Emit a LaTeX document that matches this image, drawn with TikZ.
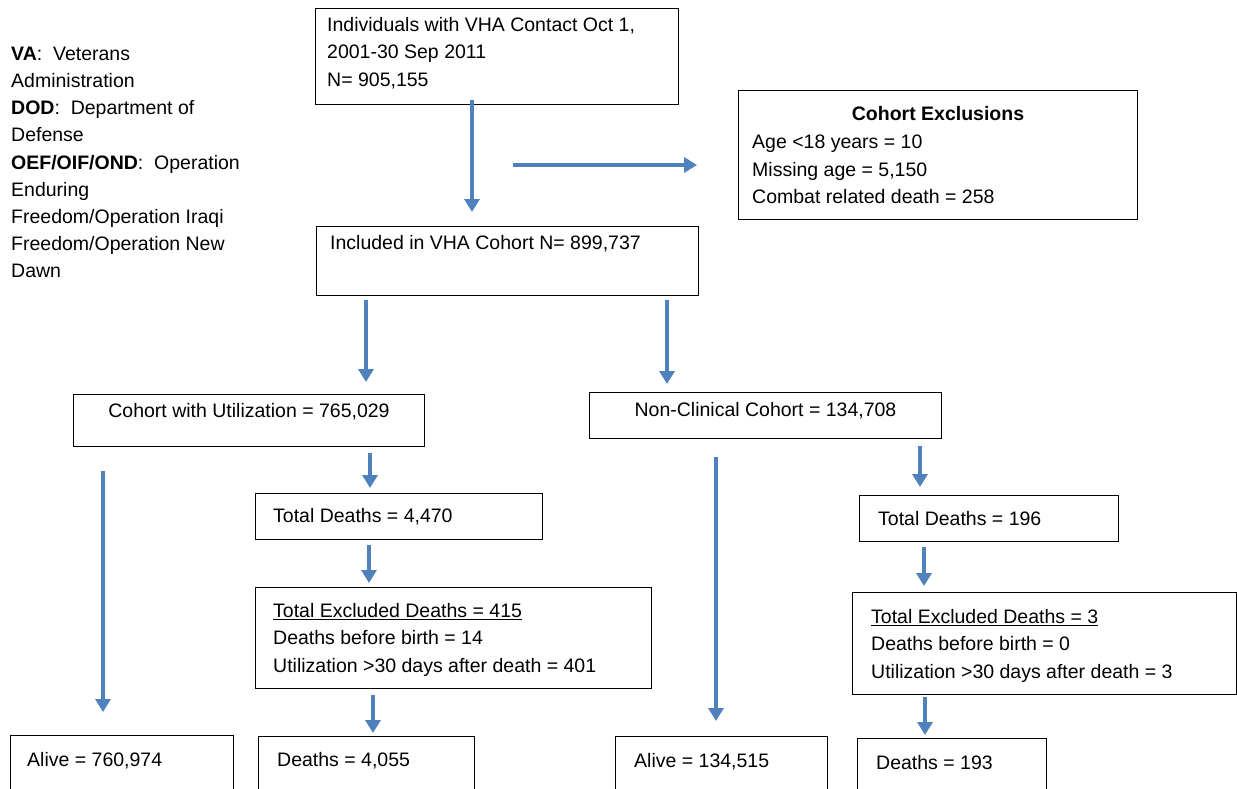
\documentclass[tikz,border=0pt]{standalone}
\usepackage{fontspec}
\setmainfont{Liberation Sans}
\usetikzlibrary{arrows.meta}
\definecolor{flowblue}{RGB}{79,129,189}
\tikzset{
  box/.style={draw=black,line width=1pt,anchor=north west,inner sep=0pt},
  txt/.style={anchor=north west,align=left,inner sep=0pt,font=\fontsize{19.5}{27.5}\selectfont},
  flow/.style={draw=flowblue,line width=4.5pt,-{Triangle[width=15pt,length=13pt]}}
}

\begin{document}
\begin{tikzpicture}[x=1pt,y=-1pt]
  \useasboundingbox[fill=white] (0,0) rectangle (1237,789);
  \begin{scope}
    \clip (0,0) rectangle (1237,789);

    % legend
    \node[txt,font=\fontsize{19.5}{27.1}\selectfont] (legend) at (11,47) {
      \textbf{VA}:\ \ Veterans\\
      Administration\\
      \textbf{DOD}:\ \ Department of\\
      Defense\\
      \textbf{OEF/OIF/OND}:\ \ Operation\\
      Enduring\\
      Freedom/Operation Iraqi\\
      Freedom/Operation New\\
      Dawn
    };

    % boxes
    \node[box,minimum width=363,minimum height=96,
      label={[txt,xshift=12pt,yshift=-9pt]north west:{Individuals with VHA Contact Oct 1,\\2001-30 Sep 2011\\N= 905,155}}]
      (contact) at (315,8) {};
    \node[box,minimum width=399,minimum height=129,
      label={[txt,anchor=north,yshift=-16pt]north:{\textbf{Cohort Exclusions}}},
      label={[txt,xshift=14pt,yshift=-45pt]north west:{Age <18 years = 10\\Missing age = 5,150\\Combat related death = 258}}]
      (excl) at (738,90) {};
    \node[box,minimum width=382,minimum height=69,
      label={[txt,xshift=14pt,yshift=-9pt]north west:{Included in VHA Cohort N= 899,737}}]
      (incl) at (316,226) {};
    \node[box,minimum width=351,minimum height=52,
      label={[txt,anchor=north,yshift=-9pt]north:{Cohort with Utilization = 765,029}}]
      (util) at (73,394) {};
    \node[box,minimum width=352,minimum height=46,
      label={[txt,anchor=north,yshift=-10pt]north:{Non-Clinical Cohort = 134,708}}]
      (noncl) at (589,392) {};
    \node[box,minimum width=287,minimum height=46,
      label={[txt,anchor=west,xshift=18pt]west:{Total Deaths = 4,470}}]
      (utildeaths) at (255,493) {};
    \node[box,minimum width=259,minimum height=46,
      label={[txt,anchor=west,xshift=19pt]west:{Total Deaths = 196}}]
      (nonceaths) at (859,495) {};
    \node[box,minimum width=396,minimum height=101,
      label={[txt,xshift=18pt,yshift=-16pt]north west:{\underline{Total Excluded Deaths = 415}\\Deaths before birth = 14\\Utilization >30 days after death = 401}}]
      (utilexcl) at (255,587) {};
    \node[box,minimum width=384,minimum height=102,
      label={[txt,xshift=19pt,yshift=-17pt]north west:{\underline{Total Excluded Deaths = 3}\\Deaths before birth = 0\\Utilization >30 days after death = 3}}]
      (noncexcl) at (852,592) {};
    \node[box,minimum width=223,minimum height=80,
      label={[txt,xshift=17pt,yshift=-17pt]north west:{Alive = 760,974}}]
      (utilalive) at (10,735) {};
    \node[box,minimum width=216,minimum height=80,
      label={[txt,xshift=19pt,yshift=-16pt]north west:{Deaths = 4,055}}]
      (utildead) at (258,736) {};
    \node[box,minimum width=212,minimum height=80,
      label={[txt,xshift=19pt,yshift=-17pt]north west:{Alive = 134,515}}]
      (noncalive) at (615,736) {};
    \node[box,minimum width=189,minimum height=80,
      label={[txt,xshift=19pt,yshift=-17pt]north west:{Deaths = 193}}]
      (noncdead) at (857,738) {};

    % arrow starts
    \coordinate (a1) at (472,100);
    \coordinate (a2) at (513,165);
    \coordinate (a3) at (366,300);
    \coordinate (a4) at (667,300);
    \coordinate (a5) at (370,453);
    \coordinate (a6) at (920,446);
    \coordinate (a7) at (369,545);
    \coordinate (a8) at (924,547);
    \coordinate (a9) at (373,695);
    \coordinate (a10) at (925,697);
    \coordinate (a11) at (103,471);
    \coordinate (a12) at (716,457);

    % arrows
    \draw[flow,shorten >=14pt] (a1) -- (a1 |- incl.north);
    \draw[flow,shorten >=41pt] (a2) -- (a2 -| excl.west);
    \draw[flow,shorten >=12pt] (a3) -- (a3 |- util.north);
    \draw[flow,shorten >=8pt] (a4) -- (a4 |- noncl.north);
    \draw[flow,shorten >=5pt] (a5) -- (a5 |- utildeaths.north);
    \draw[flow,shorten >=8pt] (a6) -- (a6 |- nonceaths.north);
    \draw[flow,shorten >=4pt] (a7) -- (a7 |- utilexcl.north);
    \draw[flow,shorten >=6pt] (a8) -- (a8 |- noncexcl.north);
    \draw[flow,shorten >=3pt] (a9) -- (a9 |- utildead.north);
    \draw[flow,shorten >=3pt] (a10) -- (a10 |- noncdead.north);
    \draw[flow,shorten >=23pt] (a11) -- (a11 |- utilalive.north);
    \draw[flow,shorten >=15pt] (a12) -- (a12 |- noncalive.north);
  \end{scope}
\end{tikzpicture}
\end{document}
